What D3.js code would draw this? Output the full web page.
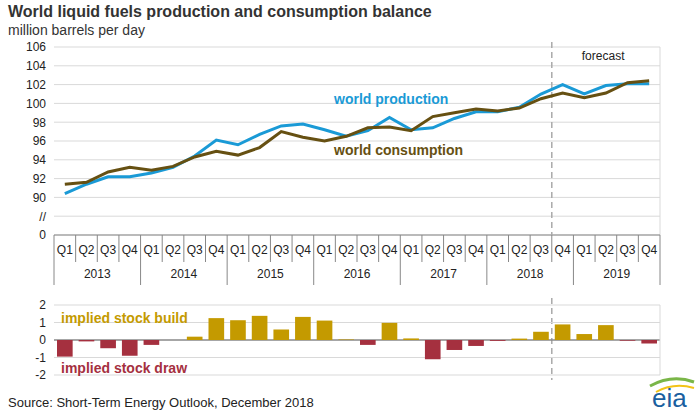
<!DOCTYPE html>
<html><head><meta charset="utf-8">
<script src="https://cdn.jsdelivr.net/npm/d3@7"></script>
<style>body{margin:0;background:#fff}text{font-family:Arial,"Liberation Sans",sans-serif}</style>
</head><body>
<script>
const years = ["2013","2014","2015","2016","2017","2018","2019"]
const quarters = ["Q1","Q2","Q3","Q4"]
const production = [90.4,91.4,92.2,92.2,92.6,93.2,94.4,96.1,95.6,96.7,97.6,97.8,97.2,96.5,97.1,98.5,97.2,97.4,98.4,99.1,99.1,99.6,101.0,102.0,101.0,101.9,102.1,102.1]
const consumption = [91.4,91.6,92.7,93.2,92.9,93.3,94.3,94.9,94.5,95.3,97.0,96.4,96.0,96.5,97.4,97.5,97.1,98.6,99.0,99.4,99.2,99.5,100.5,101.1,100.6,101.1,102.2,102.4]
const balance = [-0.95,-0.08,-0.47,-0.9,-0.28,0,0.19,1.25,1.13,1.38,0.6,1.32,1.11,0.03,-0.28,0.98,0.09,-1.1,-0.57,-0.34,-0.05,0.08,0.47,0.89,0.34,0.85,-0.04,-0.2]
const yTicks = [86,88,90,92,94,96,98,100,102,104,106]
const yTickLabels = {86:"0",88:"//"}
const bTicks = [-2,-1,0,1,2]
const forecastStart = 23

const W = 700, H = 416, L = 54, R = 660
const svg = d3.select("body").append("svg").attr("width", W).attr("height", H)
const keys = d3.range(production.length)
const x = d3.scaleBand().domain(keys).range([L, R])
const y = d3.scaleLinear([86, 106], [235, 47])
const yb = d3.scaleLinear([-2, 2], [375, 305])
const grid = "#d9d9d9"

svg.append("text").attr("x", 8).attr("y", 17).attr("font-size", 16).attr("font-weight", "bold").attr("fill", "#333").text("World liquid fuels production and consumption balance")
svg.append("text").attr("x", 8).attr("y", 35).attr("font-size", 14).attr("fill", "#333").text("million barrels per day")

// top grid + axis
svg.append("g").selectAll("line").data(yTicks).join("line")
  .attr("x1", L).attr("x2", R).attr("y1", d => y(d)).attr("y2", d => y(d)).attr("stroke", grid)
svg.append("line").attr("x1", R).attr("x2", R).attr("y1", y(106)).attr("y2", y(86)).attr("stroke", grid)
svg.append("g").attr("transform", `translate(${L},0)`)
  .call(d3.axisLeft(y).tickValues(yTicks).tickSize(0).tickPadding(8).tickFormat(d => yTickLabels[d] || d))
  .call(g => g.select(".domain").remove())
  .call(g => g.selectAll("text").attr("font-size", 12).attr("fill", "#222").style("font-family", "Arial, Liberation Sans, sans-serif"))

// category axis
const ax = svg.append("g")
ax.append("line").attr("x1", L).attr("x2", R).attr("y1", 235).attr("y2", 235).attr("stroke", "#888")
ax.selectAll(".qt").data(keys).join("line").attr("x1", d => x(d)).attr("x2", d => x(d))
  .attr("y1", 235).attr("y2", d => d % 4 === 0 ? 285 : 262).attr("stroke", "#888")
ax.append("line").attr("x1", R).attr("x2", R).attr("y1", 235).attr("y2", 285).attr("stroke", "#888")
ax.selectAll(".ql").data(keys).join("text").attr("x", d => x(d) + x.bandwidth() / 2).attr("y", 254)
  .attr("text-anchor", "middle").attr("font-size", 12).attr("fill", "#222").text(d => quarters[d % 4])
ax.selectAll(".yl").data(years).join("text").attr("x", (d, i) => x(i * 4) + x.bandwidth() * 2).attr("y", 278)
  .attr("text-anchor", "middle").attr("font-size", 12).attr("fill", "#222").text(d => d)

// forecast
const fx = x(forecastStart)
svg.append("line").attr("x1", fx).attr("x2", fx).attr("y1", 42).attr("y2", 235).attr("stroke", "#aaa").attr("stroke-width", 1.5).attr("stroke-dasharray", "6,4")
svg.append("line").attr("x1", fx).attr("x2", fx).attr("y1", 298).attr("y2", 380).attr("stroke", "#aaa").attr("stroke-width", 1.5).attr("stroke-dasharray", "6,4")
svg.append("text").attr("x", fx + 30).attr("y", 60).attr("font-size", 12).attr("fill", "#222").text("forecast")

const line = arr => d3.line().x((d, i) => x(i) + x.bandwidth() / 2).y(d => y(d))(arr)
svg.append("path").attr("d", line(production)).attr("fill", "none").attr("stroke", "#1a9ad6").attr("stroke-width", 3)
svg.append("path").attr("d", line(consumption)).attr("fill", "none").attr("stroke", "#665012").attr("stroke-width", 3)
svg.append("text").attr("x", 334).attr("y", 104).attr("font-size", 14).attr("font-weight", "bold").attr("fill", "#1a9ad6").text("world production")
svg.append("text").attr("x", 334).attr("y", 155).attr("font-size", 14).attr("font-weight", "bold").attr("fill", "#665012").text("world consumption")

// bottom chart
svg.append("g").selectAll("line").data(bTicks).join("line")
  .attr("x1", L).attr("x2", R).attr("y1", d => yb(d)).attr("y2", d => yb(d)).attr("stroke", d => d === 0 ? "#888" : grid).attr("stroke-width", d => d === 0 ? 1.5 : 1)
svg.append("line").attr("x1", R).attr("x2", R).attr("y1", yb(2)).attr("y2", yb(-2)).attr("stroke", grid)
svg.append("g").attr("transform", `translate(${L},0)`)
  .call(d3.axisLeft(yb).tickValues(bTicks).tickSize(0).tickPadding(8).tickFormat(d => String(d)))
  .call(g => g.select(".domain").remove())
  .call(g => g.selectAll("text").attr("font-size", 12).attr("fill", "#222").style("font-family", "Arial, Liberation Sans, sans-serif"))
svg.append("g").selectAll("rect").data(balance).join("rect")
  .attr("x", (d, i) => x(i) + 3).attr("width", x.bandwidth() - 6)
  .attr("y", d => yb(Math.max(0, d))).attr("height", d => Math.abs(yb(d) - yb(0)))
  .attr("fill", d => d >= 0 ? "#c49a00" : "#a5303f")
svg.append("text").attr("x", 61).attr("y", 323).attr("font-size", 14).attr("font-weight", "bold").attr("fill", "#c49a00").text("implied stock  build")
svg.append("text").attr("x", 61).attr("y", 373).attr("font-size", 14).attr("font-weight", "bold").attr("fill", "#a5303f").text("implied stock draw")

svg.append("text").attr("x", 8).attr("y", 407).attr("font-size", 13).attr("fill", "#222").text("Source: Short-Term Energy Outlook, December 2018")
svg.append("text").attr("x", 652).attr("y", 407).attr("font-size", 26).attr("fill", "#1a5fa0").text("eia")
svg.append("path").attr("d", "M650,386 Q672,374 694,382").attr("fill", "none").attr("stroke", "#7ab648").attr("stroke-width", 3)
svg.append("path").attr("d", "M656,392 Q674,382 694,388").attr("fill", "none").attr("stroke", "#f2c318").attr("stroke-width", 2)
</script>
</body></html>
